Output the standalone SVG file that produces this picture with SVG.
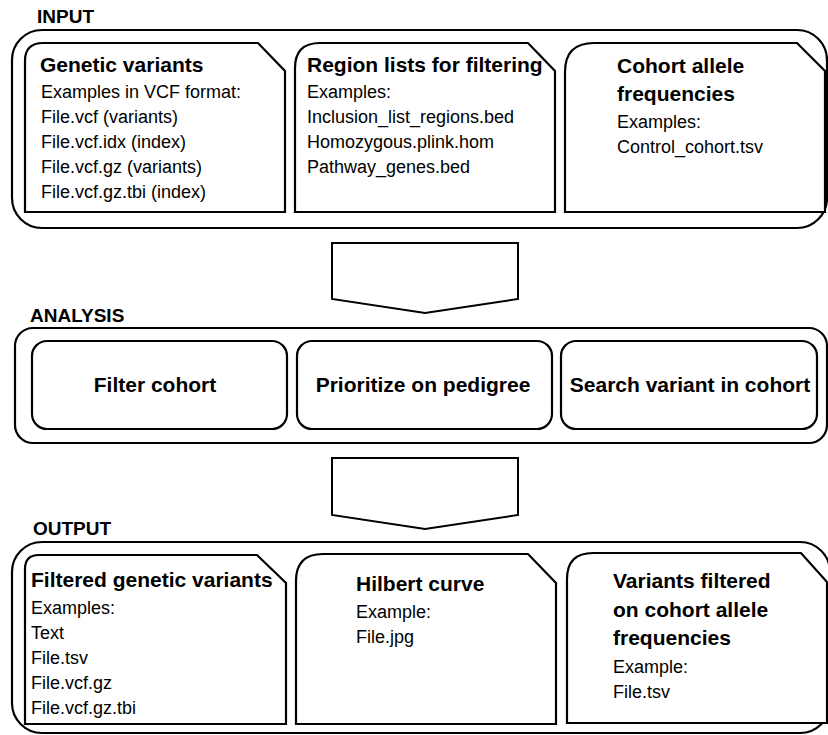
<svg xmlns="http://www.w3.org/2000/svg" width="828" height="735" viewBox="0 0 828 735">
<style>
.frame{fill:#fff;stroke:#000;stroke-width:2.2}
.box{fill:#fff;stroke:#000;stroke-width:2.2}
.arrow{fill:#fff;stroke:#000;stroke-width:2}
text{font-family:"Liberation Sans",Arial,sans-serif;fill:#000}
.sec{font-size:19px;font-weight:bold}
.ttl{font-size:21px;font-weight:bold}
.body{font-size:18px}
.lbl{font-size:21px;font-weight:bold;text-anchor:middle}
</style>
<rect width="828" height="735" fill="#fff"/>

<!-- INPUT -->
<g id="input">
<text class="sec" x="37" y="23">INPUT</text>
<rect class="frame" x="12" y="30" width="815" height="198" rx="30" ry="30"/>
</g>
<g id="genetic-variants">
<path class="box" d="M25,212 V61 Q25,43 43,43 H258 L285,71 V212 Z"/>
<text class="ttl" x="40" y="72">Genetic variants</text>
<text class="body" x="41" y="98">Examples in VCF format:</text>
<text class="body" x="41" y="123">File.vcf (variants)</text>
<text class="body" x="41" y="148">File.vcf.idx (index)</text>
<text class="body" x="41" y="173">File.vcf.gz (variants)</text>
<text class="body" x="41" y="198">File.vcf.gz.tbi (index)</text>
</g>
<g id="region-lists">
<path class="box" d="M295,212 V68 Q295,43 320,43 H528 L555,71 V212 Z"/>
<text class="ttl" x="307" y="72">Region lists for filtering</text>
<text class="body" x="307" y="98">Examples:</text>
<text class="body" x="307" y="123">Inclusion_list_regions.bed</text>
<text class="body" x="307" y="148">Homozygous.plink.hom</text>
<text class="body" x="307" y="173">Pathway_genes.bed</text>
</g>
<g id="cohort-allele-frequencies">
<path class="box" d="M565,212 V72 Q565,43 594,43 H797 L825,71 V212 Z"/>
<text class="ttl" x="617" y="73">Cohort allele</text>
<text class="ttl" x="617" y="101">frequencies</text>
<text class="body" x="617" y="128">Examples:</text>
<text class="body" x="617" y="153">Control_cohort.tsv</text>
</g>

<!-- ANALYSIS -->
<g id="analysis">
<text class="sec" x="30" y="322">ANALYSIS</text>
<rect class="frame" x="15" y="328" width="812" height="115" rx="18" ry="18"/>
</g>
<g id="filter-cohort">
<rect class="box" x="32" y="341" width="255" height="88" rx="15" ry="15"/>
<text class="lbl" x="155" y="392">Filter cohort</text>
</g>
<g id="prioritize-on-pedigree">
<rect class="box" x="297" y="341" width="255" height="88" rx="15" ry="15"/>
<text class="lbl" x="423" y="392">Prioritize on pedigree</text>
</g>
<g id="search-variant">
<rect class="box" x="561" y="341" width="256" height="88" rx="15" ry="15"/>
<text class="lbl" x="690" y="392">Search variant in cohort</text>
</g>

<!-- OUTPUT -->
<g id="output">
<text class="sec" x="33" y="535">OUTPUT</text>
<rect class="frame" x="12" y="542" width="818" height="191" rx="30" ry="30"/>
</g>
<g id="filtered-variants">
<path class="box" d="M25,724 V569 Q25,555 39,555 H257 L286,583 V724 Z"/>
<text class="ttl" x="31" y="587">Filtered genetic variants</text>
<text class="body" x="31" y="614">Examples:</text>
<text class="body" x="31" y="639">Text</text>
<text class="body" x="31" y="664">File.tsv</text>
<text class="body" x="31" y="689">File.vcf.gz</text>
<text class="body" x="31" y="714">File.vcf.gz.tbi</text>
</g>
<g id="hilbert-curve">
<path class="box" d="M296,724 V581 Q296,554 323,554 H528 L556,583 V724 Z"/>
<text class="ttl" x="356" y="591">Hilbert curve</text>
<text class="body" x="356" y="618">Example:</text>
<text class="body" x="356" y="643">File.jpg</text>
</g>
<g id="variants-filtered-cohort">
<path class="box" d="M567,723 V579 Q567,553 593,553 H801 L827,582 V723 Z"/>
<text class="ttl" x="613" y="588">Variants filtered</text>
<text class="ttl" x="613" y="617">on cohort allele</text>
<text class="ttl" x="613" y="645">frequencies</text>
<text class="body" x="613" y="673">Example:</text>
<text class="body" x="613" y="698">File.tsv</text>
</g>

<!-- connectors -->
<g id="connectors">
<polygon class="arrow" points="332,243 518,243 518,299 425,313 332,299"/>
<polygon class="arrow" points="332,458 518,458 518,515 425,529 332,515"/>
</g>
</svg>
